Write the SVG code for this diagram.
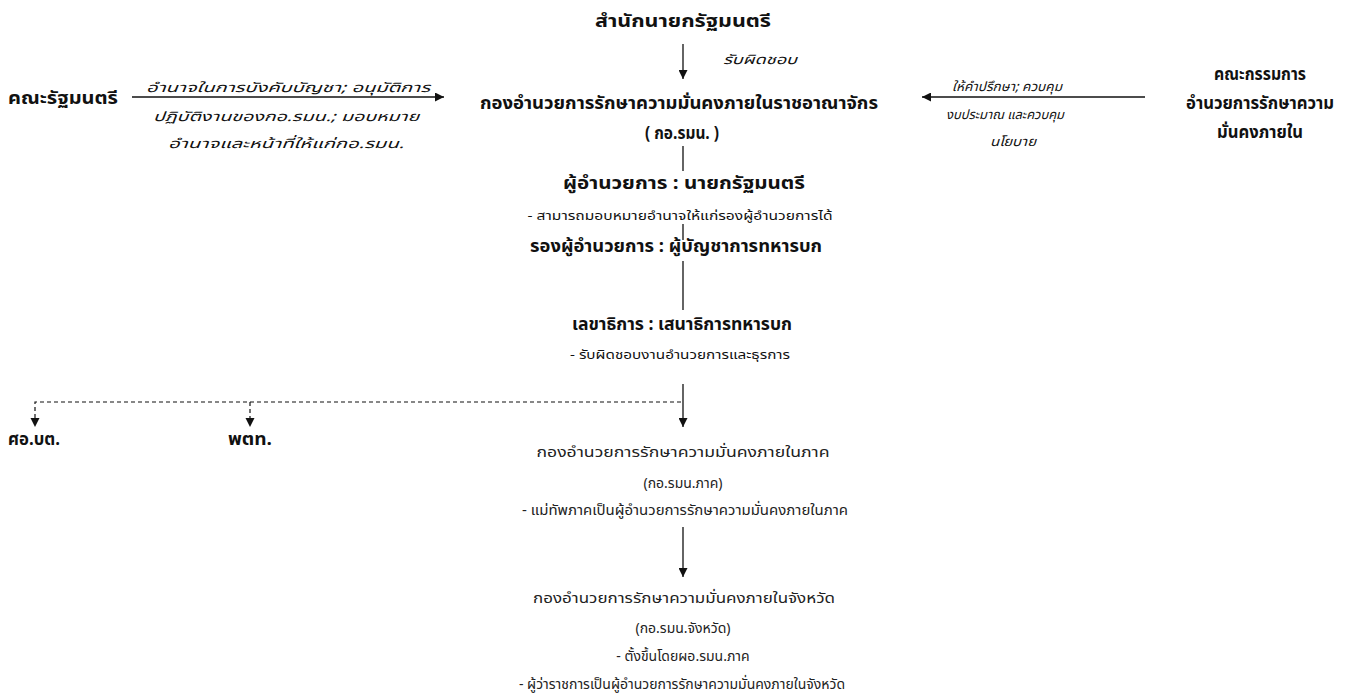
<svg xmlns="http://www.w3.org/2000/svg" width="1351" height="695" viewBox="0 0 1351 695">
<style>
text{font-family:"Noto Sans Thai","Tahoma","DejaVu Sans","Liberation Sans",sans-serif;fill:#111;text-anchor:middle;dominant-baseline:central}
.b{font-weight:bold;font-size:17px}
.r{font-size:14px;fill:#222}
.s{font-size:13px}
.i{font-style:italic;font-size:13px}
.ln{stroke:#111;stroke-width:1.3;fill:none}
.d{stroke:#111;stroke-width:1.2;fill:none;stroke-dasharray:4 3}
</style>
<defs>
<marker id="ah" viewBox="0 0 10 10" refX="10" refY="5" markerWidth="9" markerHeight="9" markerUnits="userSpaceOnUse" orient="auto"><path d="M0,0L10,5L0,10z" fill="#111"/></marker>
</defs>
<g id="connectors">
<line class="ln" x1="683" y1="44" x2="683" y2="79" marker-end="url(#ah)"/>
<line class="ln" x1="132" y1="97" x2="444" y2="97" marker-end="url(#ah)"/>
<line class="ln" x1="1145" y1="97" x2="922" y2="97" marker-end="url(#ah)"/>
<line class="ln" x1="683" y1="146" x2="683" y2="171"/>
<line class="ln" x1="683" y1="224" x2="683" y2="240"/>
<line class="ln" x1="683" y1="261" x2="683" y2="310"/>
<line class="ln" x1="683" y1="384" x2="683" y2="427" marker-end="url(#ah)"/>
<polyline class="d" points="681,402 35,402 35,419"/>
<line class="d" x1="250" y1="402" x2="250" y2="419"/>
<path d="M30.5,418L39.5,418L35,427z" fill="#111"/>
<path d="M245.5,418L254.5,418L250,427z" fill="#111"/>
<line class="ln" x1="683" y1="527" x2="683" y2="577" marker-end="url(#ah)"/>
<text class="i" x="760" y="60" textLength="74" lengthAdjust="spacingAndGlyphs">รับผิดชอบ</text>
<text class="i" x="288" y="88" textLength="284" lengthAdjust="spacingAndGlyphs">อำนาจในการบังคับบัญชา; อนุมัติการ</text>
<text class="i" x="286" y="117" textLength="266" lengthAdjust="spacingAndGlyphs">ปฏิบัติงานของกอ.รมน.; มอบหมาย</text>
<text class="i" x="286" y="144" textLength="236" lengthAdjust="spacingAndGlyphs">อำนาจและหน้าที่ให้แก่กอ.รมน.</text>
<text class="i" x="1007" y="87" textLength="110" lengthAdjust="spacingAndGlyphs">ให้คำปรึกษา; ควบคุม</text>
<text class="i" x="1005" y="115" textLength="118" lengthAdjust="spacingAndGlyphs">งบประมาณ และควบคุม</text>
<text class="i" x="1013" y="142" textLength="46" lengthAdjust="spacingAndGlyphs">นโยบาย</text>
</g>
<g id="n-pmo"><text class="b" x="683" y="22" textLength="176" lengthAdjust="spacingAndGlyphs">สำนักนายกรัฐมนตรี</text></g>
<g id="n-cabinet"><text class="b" x="63" y="99" textLength="110" lengthAdjust="spacingAndGlyphs">คณะรัฐมนตรี</text></g>
<g id="n-committee">
<text class="b" x="1260" y="75" textLength="92" lengthAdjust="spacingAndGlyphs">คณะกรรมการ</text>
<text class="b" x="1260" y="104" textLength="148" lengthAdjust="spacingAndGlyphs">อำนวยการรักษาความ</text>
<text class="b" x="1260" y="133" textLength="86" lengthAdjust="spacingAndGlyphs">มั่นคงภายใน</text>
</g>
<g id="n-isoc">
<text class="b" x="679" y="104" textLength="398" lengthAdjust="spacingAndGlyphs">กองอำนวยการรักษาความมั่นคงภายในราชอาณาจักร</text>
<text class="b" x="682" y="134" textLength="74" lengthAdjust="spacingAndGlyphs">( กอ.รมน. )</text>
</g>
<g id="n-director">
<text class="b" x="684" y="184" textLength="242" lengthAdjust="spacingAndGlyphs">ผู้อำนวยการ : นายกรัฐมนตรี</text>
<text class="s" x="680" y="216" textLength="305" lengthAdjust="spacingAndGlyphs">- สามารถมอบหมายอำนาจให้แก่รองผู้อำนวยการได้</text>
</g>
<g id="n-deputy"><text class="b" x="676" y="247" textLength="292" lengthAdjust="spacingAndGlyphs">รองผู้อำนวยการ : ผู้บัญชาการทหารบก</text></g>
<g id="n-secretary">
<text class="b" x="682" y="325" textLength="220" lengthAdjust="spacingAndGlyphs">เลขาธิการ : เสนาธิการทหารบก</text>
<text class="s" x="680" y="355" textLength="220" lengthAdjust="spacingAndGlyphs">- รับผิดชอบงานอำนวยการและธุรการ</text>
</g>
<g id="n-sbpac"><text class="b" x="34" y="440" textLength="52" lengthAdjust="spacingAndGlyphs">ศอ.บต.</text></g>
<g id="n-ptt"><text class="b" x="250" y="440" textLength="44" lengthAdjust="spacingAndGlyphs">พตท.</text></g>
<g id="n-region">
<text class="r" x="683" y="452" textLength="293" lengthAdjust="spacingAndGlyphs">กองอำนวยการรักษาความมั่นคงภายในภาค</text>
<text class="r" x="683" y="483">(กอ.รมน.ภาค)</text>
<text class="r" x="685" y="510" textLength="326" lengthAdjust="spacingAndGlyphs">- แม่ทัพภาคเป็นผู้อำนวยการรักษาความมั่นคงภายในภาค</text>
</g>
<g id="n-province">
<text class="r" x="684" y="598" textLength="302" lengthAdjust="spacingAndGlyphs">กองอำนวยการรักษาความมั่นคงภายในจังหวัด</text>
<text class="r" x="683" y="628">(กอ.รมน.จังหวัด)</text>
<text class="r" x="683" y="656">- ตั้งขึ้นโดยผอ.รมน.ภาค</text>
<text class="r" x="682" y="684">- ผู้ว่าราชการเป็นผู้อำนวยการรักษาความมั่นคงภายในจังหวัด</text>
</g>
</svg>
